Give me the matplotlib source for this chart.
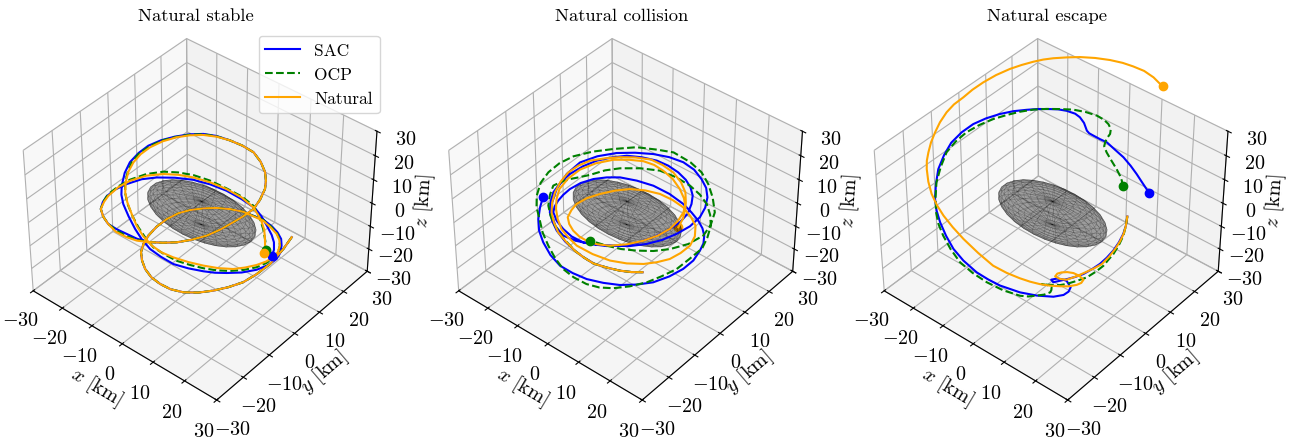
import numpy as np
import matplotlib
matplotlib.use('Agg')
import matplotlib.pyplot as plt

plt.rcParams['font.family'] = 'cmr10'
plt.rcParams['mathtext.fontset'] = 'cm'
plt.rcParams['axes.unicode_minus'] = False
plt.rcParams['axes.formatter.use_mathtext'] = True

titles = ['Natural stable', 'Natural collision', 'Natural escape']
ticks = [-30, -20, -10, 0, 10, 20, 30]
ticklabels = ['$-30$', '$-20$', '$-10$', '$0$', '$10$', '$20$', '$30$']

# asteroid semi axes [km]
semi_a, semi_b, semi_c = 16, 8.5, 5

# Natural stable, parts shared by all three runs
s_tail_x = [19.6,19.2,18.1,16.9,15.2,12.5,10.5,7.6,4.7,2.1,-0.6,-2.7,-4.8,-6.3,-7.4,-7.8,-7.8,-6.7,-6.1,-4.2,-2.2,-0.1,2.3,5.1,7.7]
s_tail_y = [11.3,8.6,4.8,1.1,-2.0,-4.5,-7.8,-10.1,-12.4,-14.2,-15.0,-15.8,-15.7,-15.1,-14.2,-12.8,-10.9,-9.0,-5.9,-3.7,-1.6,1.0,3.2,5.0,7.0]
s_tail_z = [-6,-9,-13,-15,-17,-19,-19,-20,-20,-19,-18,-16,-14,-12,-10,-8,-6,-3,-2,0,1,1,1,1,0]
s_mid_x = [-2.1,1.0,3.6,6.1,7.8,8.9,9.6,9.6,9.5,8.2,7.2,5.4,3.2,0.8,-1.4,-3.9,-6.8]
s_mid_y = [13.5,14.6,15.8,15.5,15.2,14.2,13.0,11.1,8.7,6.3,3.7,0.8,-1.7,-4.6,-7.7,-10.0,-12.1]
s_mid_z = [18,17,15,13,10,8,6,3,1,-1,-2,-4,-6,-7,-7,-7,-7]

# Natural stable, SAC
s_sac_x1 = [12.3,14.9,16.3,17.5,18.6,19.0,18.7,18.0,16.4,13.7,11.0,8.7,6.2,3.2,-0.1,-3.1,-5.9,-8.8,-10.8,-13.4,-15.7,-16.6,-17.6,-18.5,-18.4,-17.9,-16.7,-15.1,-12.8,-10.0,-7.5,-5.1]
s_sac_y1 = [9.2,9.3,9.8,9.8,8.6,7.6,6.6,4.2,1.7,-0.8,-3.3,-5.1,-6.5,-8.7,-10.5,-11.7,-12.5,-12.3,-12.4,-11.8,-11.1,-10.7,-9.4,-7.2,-5.3,-2.6,-0.3,2.6,5.2,7.5,9.8,12.0]
s_sac_z1 = [-2,-3,-5,-7,-8,-10,-12,-13,-14,-15,-15,-15,-15,-14,-13,-11,-9,-7,-4,-1,2,5,7,10,13,15,17,18,19,20,20,19]
s_sac_x2 = [-9.2,-11.7,-14.2,-16.5,-18.1,-19.3,-19.4,-19.6,-18.5,-17.1,-14.9,-11.9,-8.4,-5.0,-1.3,2.8,6.0,9.6,11.7,13.8,15.3,16.9,17.6,17.6]
s_sac_y2 = [-13.6,-14.5,-15.4,-15.9,-15.9,-15.4,-14.5,-12.8,-10.9,-8.1,-5.0,-2.8,0.0,3.0,5.0,6.4,8.4,9.2,9.2,8.7,8.8,7.7,6.9,6.2]
s_sac_z2 = [-6,-5,-4,-3,-1,1,3,4,6,7,8,9,9,8,7,6,3,1,-1,-3,-6,-7,-9,-11]

# Natural stable, OCP
s_ocp_x1 = [12.3,14.8,16.3,17.2,18.3,18.5,18.3,17.2,15.8,13.9,11.1,9.0,6.0,3.3,0.3,-2.3,-5.7,-8.0,-10.6,-12.9,-14.9,-16.0,-17.4,-18.1,-18.0,-17.7,-16.3,-14.9,-12.5,-9.8,-7.4,-5.0]
s_ocp_y1 = [9.1,9.1,9.5,9.5,8.3,7.4,6.0,4.6,2.4,-0.5,-2.2,-4.8,-6.3,-8.1,-9.7,-11.1,-11.5,-11.9,-11.4,-11.0,-10.4,-9.9,-8.4,-6.6,-5.1,-2.6,-0.3,2.6,5.3,7.5,9.7,11.9]
s_ocp_z1 = [-2,-3,-5,-7,-8,-10,-11,-13,-14,-14,-15,-14,-14,-13,-12,-10,-9,-6,-4,-1,2,5,7,10,13,15,17,18,19,20,20,19]
s_ocp_x2 = [-9.6,-11.7,-13.8,-16.5,-18.1,-19.3,-19.5,-19.2,-18.1,-17.0,-14.1,-11.5,-8.5,-5.6,-1.7,2.2,5.9,9.2,11.5,13.4,14.9,16.2]
s_ocp_y2 = [-13.3,-14.5,-15.8,-15.9,-15.9,-15.4,-14.1,-12.6,-10.1,-7.0,-4.1,-0.7,1.4,3.7,5.4,7.1,8.5,9.0,8.6,7.8,6.8,5.5]
s_ocp_z2 = [-7,-6,-4,-3,-1,1,3,5,7,8,10,10,10,9,8,6,4,2,-1,-4,-7,-9]

# Natural stable, natural motion
s_nat_x1 = [12.5,14.4,16.5,17.3,18.3,18.4,18.2,17.3,15.8,13.7,11.8,8.8,5.9,2.8,-0.6,-3.5,-5.8,-8.6,-10.7,-12.8,-14.8,-16.5,-17.1,-18.1,-17.7,-17.2,-16.6,-14.5,-12.3,-10.3,-7.9,-4.9]
s_nat_y1 = [8.9,9.5,9.2,9.3,8.3,7.4,5.9,4.2,2.4,0.5,-1.8,-3.9,-6.2,-8.2,-9.9,-11.0,-11.9,-11.9,-11.9,-11.3,-10.6,-9.4,-8.5,-6.3,-4.8,-2.6,0.2,2.6,5.3,8.0,10.2,11.8]
s_nat_z1 = [-2,-4,-5,-7,-8,-10,-11,-12,-13,-14,-14,-14,-13,-12,-11,-10,-8,-6,-3,0,3,5,8,10,13,15,16,18,19,19,19,19]
s_nat_x2 = [-9.3,-11.5,-14.3,-16.5,-18.1,-19.3,-19.3,-19.4,-18.5,-16.7,-14.3,-10.9,-7.9,-5.0,-1.2,2.4,6.1,9.1,10.7,12.6,13.7,14.6,15.5,16.1]
s_nat_y2 = [-13.5,-14.8,-15.6,-15.9,-15.9,-15.4,-14.1,-12.4,-9.7,-7.3,-3.9,-1.4,0.7,3.0,4.9,6.9,8.2,9.2,9.1,8.2,7.8,7.0,6.0,5.0]
s_nat_z2 = [-7,-6,-5,-3,-1,1,3,4,6,8,9,10,10,9,8,6,4,1,-1,-2,-4,-6,-8,-10]

# Natural collision
c_tail_x = [9.0,6.9,4.9,1.7,-1.3,-3.5,-5.6]
c_tail_y = [-4.6,-6.3,-8.4,-9.6,-11.2,-12.3,-13.1]
c_tail_z = [-15,-15,-14,-14,-13,-11,-9]
c_sac_x = [-8.6,-11.1,-13.0,-14.6,-15.2,-16.0,-15.3,-14.5,-12.8,-11.0,-8.4,-6.0,-2.8,0.3,3.1,5.5,7.6,9.2,10.5,11.2,11.7,11.2,9.7,7.6,5.4,2.8,-0.2,-3.8,-6.7,-9.8,-11.8,-14.0,-14.9,-15.6,-15.1,
           -13.7,-11.4,-8.0,-4.6,-0.8,2.4,5.7,8.4,10.4,12.3,13.7,14.1,14.3,13.5,11.7,9.3,6.8,4.2,1.0,-2.1,-4.9,-8.0,-10.3,-12.4,-14.0,-14.0,-14.2,-13.5,-13.1,-12.0,-10.0,-7.3,-4.8,-1.4,2.4,6.3,9.7,
           12.1,14.3,15.8,16.8,17.4,17.9,17.4,16.4,14.5,12.3,9.2,6.1,2.5,-1.0,-4.0,-7.0,-10.3,-12.5,-14.4,-16.3,-17.1,-17.4]
c_sac_y = [-13.3,-13.5,-12.9,-12.0,-11.0,-9.0,-7.0,-4.4,-1.5,1.7,4.3,7.2,9.1,11.2,12.2,13.2,13.6,13.5,12.8,11.5,9.4,7.0,4.0,1.2,-2.0,-4.7,-7.4,-9.4,-11.4,-12.6,-13.1,-12.0,-10.7,-8.2,-4.9,-1.5,
           2.4,5.7,8.7,11.2,13.5,14.9,15.8,16.3,15.8,14.6,13.3,11.0,8.1,5.1,2.4,-0.5,-3.7,-6.2,-8.3,-10.7,-11.5,-12.0,-12.0,-11.4,-10.8,-9.3,-8.1,-6.1,-3.3,-0.8,1.1,3.2,5.6,7.4,8.9,10.2,10.4,10.4,
           10.2,9.7,8.7,6.7,4.8,2.1,-0.9,-4.5,-7.1,-9.9,-11.9,-14.1,-15.9,-17.1,-16.9,-17.0,-16.3,-14.4,-12.8,-11.2]
c_sac_z = [-7,-4,-2,0,3,5,8,10,12,13,14,14,14,13,12,10,8,6,4,2,0,-2,-4,-6,-7,-8,-8,-8,-7,-6,-3,-1,3,6,10,13,14,15,15,15,
           14,13,11,8,6,4,1,-1,-3,-5,-7,-8,-8,-8,-8,-7,-6,-4,-2,0,2,3,5,6,7,8,9,9,8,7,5,2,0,-2,-4,-6,-8,-9,-12,-14,
           -16,-17,-18,-18,-18,-17,-15,-13,-11,-7,-4,-2,1,4]
c_ocp_x = [-9.5,-12.1,-14.2,-15.4,-16.6,-16.5,-15.3,-14.4,-12.4,-11.1,-8.2,-5.9,-2.1,2.2,5.7,9.3,12.2,14.1,15.7,17.3,17.8,17.8,16.3,15.2,13.0,11.1,8.3,5.1,2.3,-0.4,-3.3,-6.2,-8.7,-11.3,-13.9,
           -16.1,-17.8,-18.9,-19.6,-19.0,-18.0,-15.9,-12.9,-9.0,-5.1,-0.6,2.6,7.1,9.9,12.3,14.7,16.5,17.1,16.6,14.7,11.9,8.7,6.0,2.7,-0.3,-4.1]
c_ocp_y = [-13.2,-13.0,-12.2,-11.6,-9.6,-8.4,-6.6,-4.5,-3.0,-0.8,1.5,4.5,7.7,10.1,12.1,13.2,13.5,13.9,13.3,11.6,9.7,7.7,4.6,1.0,-2.1,-5.5,-8.7,-11.2,-13.2,-14.9,-16.3,-16.9,-17.0,-16.5,-15.6,
           -14.2,-13.3,-11.9,-9.6,-7.3,-4.3,-1.4,2.3,5.7,9.9,12.4,14.9,16.0,16.9,16.6,15.4,14.1,11.8,9.6,6.1,2.4,-0.1,-3.3,-5.3,-7.3,-9.1]
c_ocp_z = [-6,-3,-1,2,4,7,8,8,9,9,11,11,11,11,9,7,5,2,-1,-3,-6,-9,-12,-14,-16,-17,-18,-19,-19,-18,
           -16,-14,-11,-8,-5,-2,1,4,7,10,12,14,15,16,16,16,15,13,10,7,4,0,-3,-6,-8,-9,-10,-9,-9,-8,-7]
c_nat_x = [-8.4,-11.0,-12.5,-14.3,-14.9,-15.7,-15.5,-15.2,-13.8,-12.3,-9.4,-6.9,-4.0,-1.1,1.9,4.6,7.3,8.9,9.9,10.6,10.5,9.8,8.0,6.0,3.2,0.3,-2.4,-4.7,-6.6,-8.0,-9.8,-10.6,-10.5,-10.5,-8.8,-6.8,
           -4.2,-1.8,1.4,4.5,7.2,9.9,12.3,14.4,15.2,15.4,14.3,12.6,10.9,8.3,5.0,1.7,-2.0,-5.9,-8.4,-10.6,-12.7,-13.7,-14.9,-15.1,-14.3,-13.1,-11.1,-8.1,-5.1,-2.1,0.3,2.9,4.9,7.6,9.5,10.3,11.4,11.0]
c_nat_y = [-13.2,-13.1,-12.9,-11.7,-10.7,-8.7,-6.8,-4.2,-2.0,0.6,3.0,5.7,8.0,10.6,11.5,12.4,12.1,11.9,10.9,9.1,7.1,4.9,2.3,-0.7,-3.7,-6.8,-8.4,-9.7,-10.3,-10.9,-10.3,-9.9,-8.6,-6.7,-4.7,-2.1,0.6,
           3.4,5.4,7.4,9.0,9.9,9.8,9.2,8.0,5.9,3.6,1.5,-1.5,-3.4,-5.9,-8.4,-10.6,-12.0,-12.3,-12.3,-11.3,-10.7,-9.1,-7.7,-5.3,-2.2,1.5,4.6,7.1,8.9,10.2,10.6,11.8,11.3,10.6,10.3,8.0,6.7]
c_nat_z = [-7,-5,-2,0,3,5,8,10,12,13,14,14,14,13,12,10,8,5,2,0,-2,-4,-6,-7,-8,-8,-8,-7,-6,-4,-3,-1,1,2,4,5,6,6,6,5,
           3,1,-1,-3,-6,-8,-10,-12,-12,-13,-13,-12,-10,-8,-6,-4,-2,1,3,6,9,11,12,13,13,13,12,11,8,6,4,1,-1,-4]

# Natural escape
e_sac_x = [14.5,15.3,15.7,15.8,15.6,15.0,14.1,13.3,12.3,10.9,9.3,8.3,7.5,6.5,7.8,8.3,9.7,10.9,11.0,10.3,8.8,5.4,2.0,-2.3,-5.4,-8.2,-11.9,-14.9,-17.8,-19.9,-21.7,-23.8,-25.0,-25.9,-26.6,-25.9,
           -25.4,-24.1,-21.9,-19.8,-18.0,-15.2,-13.2,-11.0,-9.4,-7.4,-5.7,-4.5,-3.5,-1.6,-1.1,-0.3,1.2,3.3,5.5,7.8,10.1,12.1,13.7,15.4,16.4]
e_sac_y = [11.5,10.0,8.5,6.7,4.8,3.0,1.5,-0.7,-2.7,-4.2,-5.5,-7.2,-8.5,-8.1,-7.6,-6.3,-6.0,-5.9,-6.8,-7.9,-10.0,-12.3,-14.7,-17.2,-18.0,-19.1,-19.8,-20.0,-19.4,-19.1,-18.3,-16.5,-14.7,-12.7,-9.7,
           -7.7,-4.4,-1.5,0.8,3.6,6.6,8.4,10.5,12.3,13.5,14.4,15.6,16.0,16.4,15.2,15.5,16.2,16.9,17.0,17.5,18.0,18.0,17.9,18.3,17.8,17.7]
e_sac_z = [-1,-3,-5,-7,-9,-11,-13,-14,-15,-16,-17,-17,-17,-17,-16,-17,-17,-19,-20,-21,-21,-21,-20,-18,-17,-15,-12,-9,-6,-2,
           1,3,7,11,14,18,20,22,24,25,25,26,26,26,26,26,25,24,22,21,20,19,18,18,16,14,12,10,7,6,5]
e_ocp_x = [14.5,15.3,15.6,15.9,15.9,15.3,15.2,14.1,13.2,11.6,9.9,8.9,7.6,6.3,5.2,6.5,7.3,7.9,7.7,7.1,5.4,4.0,2.3,-1.1,-5.0,-8.8,-12.1,-15.4,-18.4,-20.4,-22.0,-23.5,-24.7,-25.4,-26.2,-25.4,-24.5,
           -22.7,-21.0,-18.9,-16.6,-14.0,-11.7,-9.1,-6.5,-4.1,-1.7,0.0,1.4,2.5,3.0,2.9,3.0,3.2,4.0,5.8,7.7,8.8,9.8,10.6]
e_ocp_y = [11.5,10.0,8.7,6.6,4.5,3.1,1.5,-0.1,-2.5,-4.4,-6.2,-7.6,-8.6,-9.6,-10.2,-9.6,-8.9,-9.7,-9.9,-11.5,-12.3,-13.9,-15.0,-17.4,-19.0,-19.9,-20.8,-20.5,-19.8,-19.2,-18.2,-16.6,-14.8,-12.3,
           -9.2,-6.6,-3.6,-0.8,2.5,5.1,7.5,9.5,11.8,13.9,15.8,17.8,19.2,19.8,19.9,19.5,18.6,17.5,16.7,16.1,16.1,15.8,15.5,15.5,15.0,14.3]
e_ocp_z = [-1,-3,-6,-8,-10,-12,-13,-15,-16,-17,-18,-18,-18,-18,-18,-18,-19,-19,-20,-20,-21,-21,-21,-19,-17,-15,-12,-9,-6,-3,
           0,4,8,12,15,18,20,22,23,24,25,26,26,26,26,25,24,23,22,21,20,19,18,17,15,13,11,9,8,7]
e_nat_x = [14.5,15.3,15.7,15.8,15.6,15.2,14.5,13.5,12.4,11.0,9.4,8.0,7.0,7.3,7.8,8.8,10.2,11.4,12.6,12.4,12.0,10.8,9.2,7.2,4.9,3.0,0.8,-2.4,-5.6,-9.8,-14.3,-17.5,-20.4,-22.5,-24.5,-26.4,-28.1,
           -29.0,-29.6,-29.8,-30.4,-30.2,-30.3,-29.7,-28.5,-27.5,-26.1,-25.0,-22.7,-20.9,-18.9,-17.6,-15.4,-13.1,-10.7,-7.6,-4.9,-2.4,0.5,2.5,5.3,8.1]
e_nat_y = [11.5,10.0,8.7,7.1,5.5,3.7,1.7,-0.1,-1.5,-3.8,-5.7,-6.5,-7.2,-6.7,-5.7,-4.7,-4.0,-3.2,-3.0,-3.6,-4.9,-6.6,-7.9,-9.3,-10.5,-12.0,-13.3,-14.5,-15.9,-16.6,-16.9,-17.2,-17.3,-17.3,-16.9,
           -15.9,-14.5,-13.4,-12.1,-10.8,-8.6,-6.9,-4.3,-2.2,0.0,2.3,4.8,8.3,10.9,13.2,15.3,17.6,18.8,21.2,23.4,25.5,28.0,29.9,30.4,32.3,32.5,32.6]
e_nat_z = [-1,-3,-5,-7,-9,-11,-13,-14,-15,-16,-17,-17,-16,-15,-15,-15,-15,-16,-17,-18,-18,-18,-18,-18,-18,-17,-16,-15,-13,-10,
           -7,-4,-1,2,5,8,11,13,15,18,20,23,25,27,29,31,33,34,36,37,38,38,39,39,39,39,38,37,37,35,34,32]

panels = [
    [(s_tail_x + s_sac_x1 + s_mid_x + s_sac_x2, s_tail_y + s_sac_y1 + s_mid_y + s_sac_y2, s_tail_z + s_sac_z1 + s_mid_z + s_sac_z2),
     (s_tail_x + s_ocp_x1 + s_mid_x + s_ocp_x2, s_tail_y + s_ocp_y1 + s_mid_y + s_ocp_y2, s_tail_z + s_ocp_z1 + s_mid_z + s_ocp_z2),
     (s_tail_x + s_nat_x1 + s_mid_x + s_nat_x2, s_tail_y + s_nat_y1 + s_mid_y + s_nat_y2, s_tail_z + s_nat_z1 + s_mid_z + s_nat_z2)],
    [(c_tail_x + c_sac_x, c_tail_y + c_sac_y, c_tail_z + c_sac_z),
     (c_tail_x + c_ocp_x, c_tail_y + c_ocp_y, c_tail_z + c_ocp_z),
     (c_tail_x + c_nat_x, c_tail_y + c_nat_y, c_tail_z + c_nat_z)],
    [(e_sac_x, e_sac_y, e_sac_z), (e_ocp_x, e_ocp_y, e_ocp_z), (e_nat_x, e_nat_y, e_nat_z)],
]
styles = [('blue', '-', 'SAC'), ('green', '--', 'OCP'), ('orange', '-', 'Natural')]

W, H = 1293.0, 439.0
s = 379.0
fig = plt.figure(figsize=(W / 100, H / 100), dpi=100)

for i, runs in enumerate(panels):
    ax = fig.add_subplot(1, 3, i + 1, projection='3d', computed_zorder=False)
    cx = 196 + 425.5 * i
    cy = 219
    ax.set_position([(cx - s / 2) / W, 1 - (cy + s / 2) / H, s / W, s / H])
    ax.patch.set_alpha(0)
    ax.view_init(elev=40, azim=-50)
    ax.set_xlim(-30, 30)
    ax.set_ylim(-30, 30)
    ax.set_zlim(-30, 30)
    ax.set_xticks(ticks)
    ax.set_yticks(ticks)
    ax.set_zticks(ticks)
    ax.set_xticklabels(ticklabels, fontsize=14.5)
    ax.set_yticklabels(ticklabels, fontsize=14.5)
    ax.set_zticklabels(ticklabels, fontsize=14.5)
    ax.set_xlabel('$x$ [km]', fontsize=14.5, labelpad=2)
    ax.set_ylabel('$y$ [km]', fontsize=14.5, labelpad=1)
    ax.set_zlabel('$z$ [km]', fontsize=14.5, labelpad=1)
    ax.set_title(titles[i], fontsize=13.4, y=1.088)

    # asteroid
    u = np.linspace(0, 2 * np.pi, 30)
    v = np.linspace(0, np.pi, 24)
    X = semi_a * np.outer(np.cos(u), np.sin(v))
    Y = semi_b * np.outer(np.sin(u), np.sin(v))
    Z = semi_c * np.outer(np.ones_like(u), np.cos(v))
    ax.plot_surface(X, Y, Z, color='k', alpha=0.2, edgecolor='k', linewidth=0.25, shade=False, zorder=1)

    for (xs, ys, zs), (col, ls, lab) in zip(runs, styles):
        ax.plot(xs, ys, zs, color=col, ls=ls, label=lab, zorder=2)
        # the collision end point sits inside the asteroid
        mz = 0.5 if i == 1 and col == 'orange' else 3
        ax.plot(xs[-1:], ys[-1:], zs[-1:], 'o', color=col, zorder=mz)

    if i == 0:
        ax.legend(loc='upper left', bbox_to_anchor=(258.5 / W, 1 - 37 / H), bbox_transform=fig.transFigure,
                  borderaxespad=0, fontsize=12.5)

fig.savefig('out.png', dpi=100)
